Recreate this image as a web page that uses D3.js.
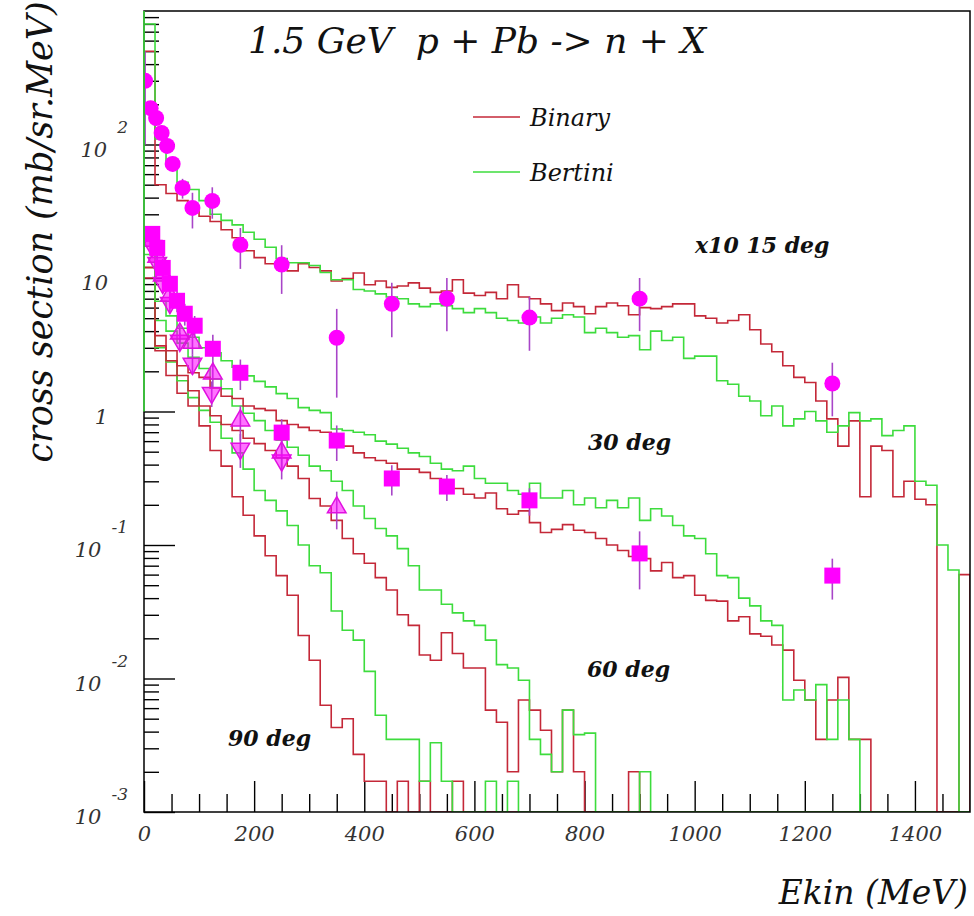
<!DOCTYPE html>
<html><head><meta charset="utf-8">
<script src="https://cdn.jsdelivr.net/npm/d3@7"></script>
<style>
body{margin:0;background:#fff}
text{font-family:"DejaVu Serif",serif;font-style:italic}
</style>
</head><body>
<svg id="c" width="974" height="916"></svg>
<script>
// ---------------- data ----------------
const binWidth = 20; // MeV, histogram bins start at 0; bins past the end of an array are empty
// x10 15 deg
const binary15 = [500,50,43,38,33,29,26.5,23,20,16, 14.2,12.8,12.1,11.3,12.8,12,11.3,9.5,9.9,10.9,
  8.9,9.5,8.5,8.7,9.2,8.4,7.8,8.0,9.7,7.7, 7.4,7.8,7.0,8.9,7.2,7.0,6.4,5.7,6.5,6.1,
  5.4,6.1,6.5,6.2,5.3,6.0,5.9,6.1,6.4,6.4, 5.2,5.0,4.6,4.8,5.3,4.1,3.2,2.8,2.2,1.8,
  1.65,1.2,0.88,0.55,0.85,0.23,0.55,0.51,0.23,0.3, 0.22,0.2,0,0,0.06];
const bertini15 = [800,110,70,52,46,38,30,27,25,22, 19.5,17,14,13,13,12.4,11,9.7,9.7,8.2,
  8.0,7.6,7.2,7.0,6.4,6.1,6.4,6.2,5.9,5.5, 5.9,5.5,5.0,4.8,4.6,5.1,4.6,5.0,5.3,5.1,
  3.9,4.2,3.9,3.6,3.7,2.9,4.0,3.4,3.6,2.5, 2.6,2.6,1.7,1.6,1.3,1.2,0.93,1.1,0.78,0.88,
  1.0,0.85,0.7,0.78,0.98,0.85,0.88,0.66,0.72,0.78, 0.30,0.28,0.1,0.065,0];
// 30 deg
const binary30 = [12,3.7,2.85,2.2,1.95,1.8,1.5,1.3,1.25,1.1, 1.05,1.02,0.855,0.8,0.76,0.72,0.7,0.61,0.55,0.49,
  0.45,0.43,0.41,0.37,0.37,0.35,0.315,0.29,0.265,0.24, 0.225,0.245,0.187,0.17,0.18,0.147,0.124,0.131,0.142,0.129,
  0.124,0.112,0.1,0.091,0.082,0.079,0.064,0.074,0.057,0.059, 0.042,0.0385,0.038,0.027,0.029,0.0216,0.0207,0.0178,0.0163,0.0097,
  0.0069,0.0035,0.0069,0.0102,0.0035,0.0035];
const bertini30 = [20,6.7,5.2,4.2,3.6,3.0,2.75,2.4,2.15,1.85, 1.68,1.53,1.36,1.25,1.07,1.02,0.98,0.74,0.72,0.7,
  0.67,0.6,0.57,0.53,0.49,0.46,0.41,0.37,0.36,0.39, 0.315,0.29,0.29,0.256,0.24,0.29,0.225,0.225,0.256,0.2,
  0.225,0.19,0.216,0.19,0.225,0.153,0.187,0.165,0.14,0.117, 0.112,0.086,0.059,0.057,0.04,0.035,0.027,0.025,0.0069,0.0082,
  0.0069,0.009,0.0035,0.0069,0.0035];
// 60 deg
const binary60 = [12,3.1,2.4,1.86,1.43,1.1,0.93,0.8,0.72,0.63, 0.575,0.51,0.45,0.39,0.315,0.223,0.196,0.153,0.112,0.086,
  0.073,0.057,0.046,0.03,0.025,0.015,0.0137,0.022,0.0154,0.012, 0.012,0.0058,0.0047,0.002,0.0069,0.0058,0.0041,0.002,0.0058,0.002,
  0,0,0,0,0.002];
const bertini60 = [15,4.8,4.0,3.25,2.55,2.1,1.75,1.48,1.1,0.97, 0.855,0.72,0.61,0.54,0.47,0.39,0.36,0.30,0.256,0.196,
  0.158,0.133,0.117,0.094,0.07,0.046,0.046,0.036,0.031,0.027, 0.025,0.0194,0.0127,0.012,0.0097,0.0035,0.0027,0.002,0.0058,0.0038,
  0.0039,0,0,0,0,0.002];
// 90 deg
const binary90 = [10,2.85,1.86,1.37,1.1,0.78,0.51,0.39,0.23,0.167, 0.117,0.083,0.059,0.042,0.021,0.0137,0.0063,0.0043,0.005,0.0027,
  0.0017,0.0017,0,0.0017,0,0.0017,0,0,0.0017];
const bertini90 = [12,3.0,2.35,1.7,1.27,1.02,0.83,0.63,0.49,0.37, 0.256,0.216,0.18,0.14,0.1,0.07,0.062,0.032,0.023,0.0194,
  0.0113,0.0053,0.0035,0.0035,0.0035,0.0017,0.0033,0.0017,0,0, 0,0.0017,0,0.0017];

// measured points (energy MeV, value, error)
const exp15E = [2,12,22,32,42,52,70,88,124,175,250,350,450,550,700,900,1250];
const exp15V = [300,187,158,122,97.5,71.5,47.3,33.5,37.8,17.7,12.6,3.57,6.4,7.0,5.05,7.0,1.62];
const exp15Err = [200,25,20,15,12,9,8,10,10,6,5,2.3,2.8,3,2.2,3,0.7];
const exp30E = [15,24,34,47,60,74,92,125,175,250,350,450,550,700,900,1250];
const exp30V = [21.4,16.8,11.9,9.05,6.75,5.4,4.39,2.95,1.95,0.695,0.606,0.315,0.274,0.216,0.0865,0.059];
const exp30Err = [3,2.5,2,1.5,1.2,1,0.8,0.8,0.5,0.18,0.18,0.08,0.06,0.05,0.04,0.02];
const exp60E = [15,24,34,47,65,88,125,175,250,350];
const exp60V = [19.0,14.4,10.4,7.36,3.83,3.27,1.92,0.855,0.493,0.191];
const exp60Err = [2.5,2,1.5,1,0.6,0.6,0.4,0.25,0.12,0.06];
const exp90E = [15,24,34,47,65,88,123,175,250];
const exp90V = [17.4,13.0,9.2,6.5,3.39,2.28,1.38,0.528,0.43];
const exp90Err = [2.5,2,1.5,1,0.5,0.4,0.3,0.15,0.12];

// axes
const xMajor = [0,200,400,600,800,1000,1200,1400];
const xMinor = [50,100,150,250,300,350,450,500,550,650,700,750,850,900,950,1050,1100,1150,1250,1300,1350,1450];
const yMajor = [1e-3,1e-2,1e-1,1,10,100];
const yBase = ["10","10","10","1","10","10"];
const yExp = ["-3","-2","-1","","","2"];

const seriesNames = ["Binary","Bertini"];
const curveLabels = ["x10 15 deg","30 deg","60 deg","90 deg"];

// ---------------- drawing ----------------
const m = {l:144, r:970, t:11, b:812};
const RED = "#c42838", GREEN = "#3ddc3d", MAG = "#ff00ff", BAR = "#a845c8";
const svg = d3.select("#c");
const x = d3.scaleLinear().domain([0,1500]).range([m.l, m.r]);
const y = d3.scaleLog().domain([1e-3,1e3]).range([m.b, m.t]);

svg.append("defs").append("clipPath").attr("id","plot").append("rect")
  .attr("x",m.l).attr("y",m.t).attr("width",m.r-m.l).attr("height",m.b-m.t);

// axes ticks (inward)
function styleAxis(g){ g.select(".domain").remove(); g.selectAll(".tick line").attr("stroke","#000").attr("stroke-width",1.4); }
svg.append("g").attr("transform",`translate(0,${m.b})`)
  .call(d3.axisBottom(x).tickValues(xMinor).tickSize(-18).tickFormat(""))
  .call(styleAxis);
const gx = svg.append("g").attr("transform",`translate(0,${m.b})`)
  .call(d3.axisBottom(x).tickValues(xMajor).tickSize(-31).tickPadding(14).tickFormat(d3.format("d")))
  .call(styleAxis);
gx.selectAll("text").attr("font-size",21).attr("fill","#333")
  .style("font-family",'"DejaVu Serif",serif').style("font-style","italic");

const yMinor = y.ticks().filter(v => yMajor.indexOf(v) < 0 && v < 1000);
svg.append("g").attr("transform",`translate(${m.l},0)`)
  .call(d3.axisLeft(y).tickValues(yMinor).tickSize(-15).tickFormat(""))
  .call(styleAxis);
svg.append("g").attr("transform",`translate(${m.l},0)`)
  .call(d3.axisLeft(y).tickValues(yMajor).tickSize(-31).tickFormat(""))
  .call(styleAxis);

// y labels with exponents
yMajor.forEach((v,i)=>{
  const yy = y(v);
  if (yExp[i]) {
    const ex = svg.append("text").attr("x",128).attr("y",yy-12).attr("text-anchor","end")
      .attr("font-size",17).attr("fill","#333").text(yExp[i]);
    const w = ex.node().getComputedTextLength();
    svg.append("text").attr("x",128-w-10).attr("y",yy+12).attr("text-anchor","end")
      .attr("font-size",21).attr("fill","#333").text(yBase[i]);
  } else {
    svg.append("text").attr("x",108).attr("y",yy+12).attr("text-anchor","end")
      .attr("font-size",21).attr("fill","#333").text(yBase[i]);
  }
});

// histograms
const plot = svg.append("g").attr("clip-path","url(#plot)");
function histPath(vals){
  const yv = v => v > 0 ? y(v) : m.b;
  const p = d3.path();
  vals.forEach((v,i)=>{
    const x0 = x(i*binWidth), x1 = x((i+1)*binWidth);
    if (i===0) p.moveTo(x0, yv(v)); else p.lineTo(x0, yv(v));
    p.lineTo(x1, yv(v));
  });
  p.lineTo(x(vals.length*binWidth), m.b);
  p.lineTo(x(1500), m.b);
  return p.toString();
}
const hists = [
  [binary90,RED],[bertini90,GREEN],[binary60,RED],[bertini60,GREEN],
  [binary30,RED],[bertini30,GREEN],[binary15,RED],[bertini15,GREEN]
];
hists.forEach(([vals,col])=>{
  plot.append("path").attr("d",histPath(vals)).attr("fill","none")
    .attr("stroke",col).attr("stroke-width",1.6).attr("stroke-linejoin","miter");
});

// data points
const mk = plot.append("g");
function errBars(E,V,Er){
  E.forEach((e,i)=>{
    const lo = V[i]-Er[i];
    mk.append("line").attr("x1",x(e)).attr("x2",x(e))
      .attr("y1",y(V[i]+Er[i])).attr("y2", lo>0 ? y(lo) : m.b)
      .attr("stroke",BAR).attr("stroke-width",1.6);
  });
}
errBars(exp90E,exp90V,exp90Err); errBars(exp60E,exp60V,exp60Err);
errBars(exp30E,exp30V,exp30Err); errBars(exp15E,exp15V,exp15Err);
const tri = d3.symbol().type(d3.symbolTriangle).size(150);
exp90E.forEach((e,i)=>{
  mk.append("path").attr("d",tri()).attr("transform",`translate(${x(e)},${y(exp90V[i])}) rotate(180)`)
    .attr("fill",MAG).attr("fill-opacity",0.55).attr("stroke","#e010e0").attr("stroke-width",1.5);
});
exp60E.forEach((e,i)=>{
  mk.append("path").attr("d",tri()).attr("transform",`translate(${x(e)},${y(exp60V[i])})`)
    .attr("fill",MAG).attr("fill-opacity",0.55).attr("stroke","#e010e0").attr("stroke-width",1.5);
});
exp30E.forEach((e,i)=>{
  mk.append("rect").attr("x",x(e)-8).attr("y",y(exp30V[i])-8).attr("width",16).attr("height",16)
    .attr("fill",MAG);
});
exp15E.forEach((e,i)=>{
  mk.append("circle").attr("cx",x(e)).attr("cy",y(exp15V[i])).attr("r",8).attr("fill",MAG);
});

// frame
svg.append("rect").attr("x",m.l).attr("y",m.t).attr("width",m.r-m.l).attr("height",m.b-m.t)
  .attr("fill","none").attr("stroke","#000").attr("stroke-width",1.5);
// green first-bin edge over the axis
svg.append("line").attr("x1",x(0)).attr("x2",x(0)).attr("y1",y(1)).attr("y2",m.t)
  .attr("stroke",GREEN).attr("stroke-width",1.6);

// title
svg.append("text").attr("x",248).attr("y",53).attr("font-size",36).attr("fill","#111")
  .style("white-space","pre").text("1.5 GeV  p + Pb -> n + X");

// legend
const leg = svg.append("g");
[RED,GREEN].forEach((c,i)=>{
  const yy = 117 + i*55;
  leg.append("line").attr("x1",473).attr("x2",520).attr("y1",yy).attr("y2",yy).attr("stroke",c).attr("stroke-width",1.6);
  leg.append("text").attr("x",530).attr("y",yy+9).attr("font-size",24).attr("fill","#111").text(seriesNames[i]);
});

// curve labels
const labPos = [[695,253],[588,450],[587,677],[228,746]];
curveLabels.forEach((t,i)=>{
  svg.append("text").attr("x",labPos[i][0]).attr("y",labPos[i][1]).attr("font-size",22)
    .attr("font-weight","bold").attr("fill","#111").text(t);
});

// axis titles
svg.append("text").attr("transform","translate(52,232) rotate(-90)").attr("text-anchor","middle")
  .attr("font-size",35).attr("fill","#111").text("cross section (mb/sr.MeV)");
svg.append("text").attr("x",968).attr("y",904).attr("text-anchor","end")
  .attr("font-size",33).attr("fill","#111").text("Ekin (MeV)");
</script>
</body></html>
